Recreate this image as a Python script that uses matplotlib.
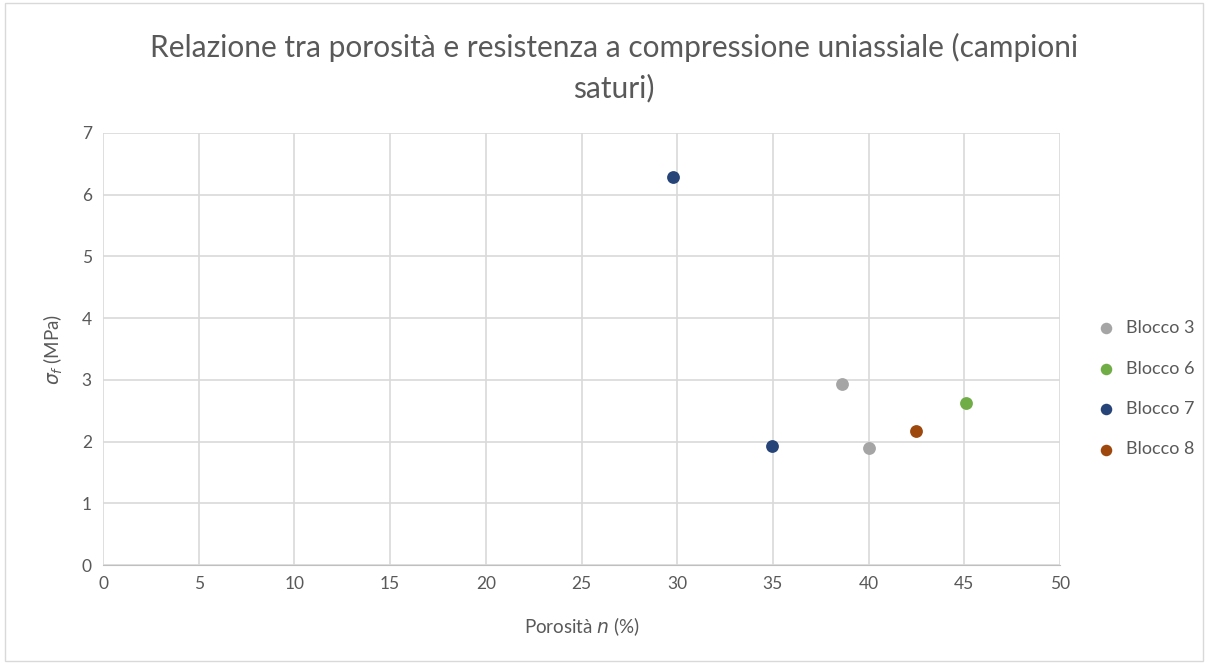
import matplotlib.pyplot as plt
import matplotlib.patches as patches

# data
blocchi = ["Blocco 3", "Blocco 6", "Blocco 7", "Blocco 8"]
porosita = {
    "Blocco 3": [38.6, 40.0],
    "Blocco 6": [45.1],
    "Blocco 7": [29.8, 34.95],
    "Blocco 8": [42.5],
}
sigma_f = {
    "Blocco 3": [2.93, 1.90],
    "Blocco 6": [2.63],
    "Blocco 7": [6.29, 1.93],
    "Blocco 8": [2.17],
}
colori = ["#a5a5a5", "#70ad47", "#264478", "#9e480e"]

plt.rcParams['font.family'] = ['Lato', 'DejaVu Sans']
txt = "#595959"

fig = plt.figure(figsize=(12.08, 6.64), dpi=100)
ax = fig.add_axes([0.0853, 0.149, 0.7922, 0.6507])

for b, c in zip(blocchi, colori):
    ax.scatter(porosita[b], sigma_f[b], s=85, color=c, label=b, zorder=3, linewidths=0)

ax.set_xlim(0, 50)
ax.set_ylim(0, 7)
ax.set_xticks(range(0, 51, 5))
ax.set_yticks(range(0, 8))
ax.grid(True, color="#d9d9d9", linewidth=1.2)
ax.set_axisbelow(True)
for s in ["top", "right", "left"]:
    ax.spines[s].set_visible(False)
ax.spines["bottom"].set_color("#bfbfbf")
ax.tick_params(length=0, labelsize=12.5, colors=txt, pad=8)

ax.set_xlabel("Porosità $\\it{n}$ (%)", fontsize=13.5, color=txt, labelpad=17)
ax.set_ylabel("$\\sigma_f$ (MPa)", fontsize=13.5, color=txt, labelpad=12)

fig.text(0.508, 0.929, "Relazione tra porosità e resistenza a compressione uniassiale (campioni",
         ha="center", va="center", fontsize=21.5, color=txt)
fig.text(0.508, 0.867, "saturi)", ha="center", va="center", fontsize=21.5, color=txt)

leg = ax.legend(loc="center left", bbox_to_anchor=(1.012, 0.408), frameon=False,
                fontsize=13, labelcolor=txt, handletextpad=0.1, labelspacing=1.35,
                markerscale=0.9)

fig.patches.append(patches.Rectangle((0.004, 0.004), 0.992, 0.992, transform=fig.transFigure,
                                     fill=False, edgecolor="#d9d9d9", linewidth=1))

fig.savefig("out.png", dpi=100)
